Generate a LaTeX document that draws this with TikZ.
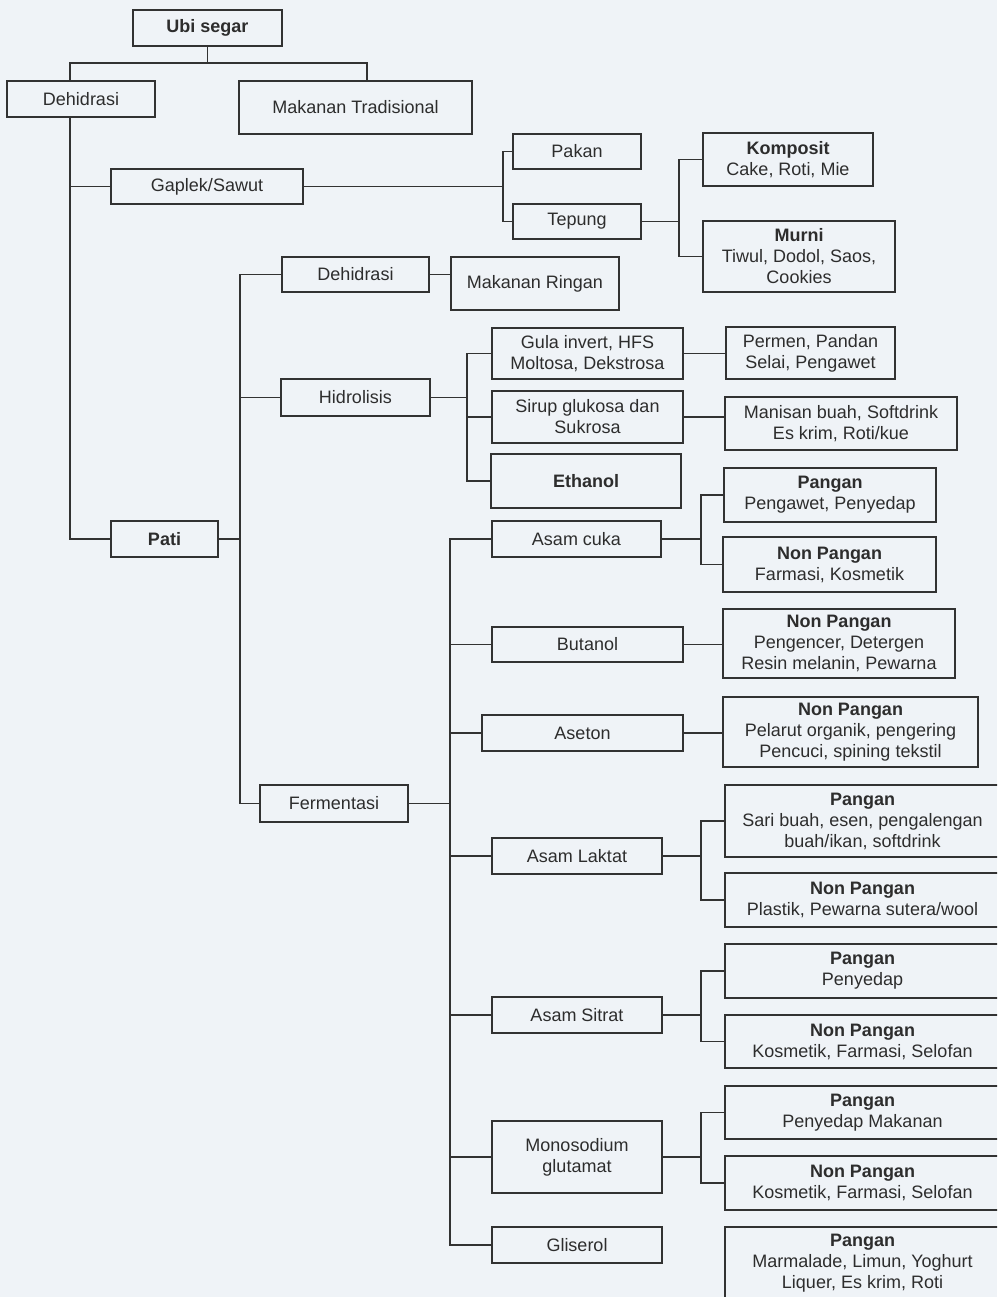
\documentclass[tikz,border=0pt]{standalone}
\usepackage{fontspec}
\setmainfont{Liberation Sans}

\definecolor{kertas}{RGB}{239,243,247}
\definecolor{garis}{RGB}{50,50,50}
\definecolor{tinta}{RGB}{45,45,45}

\tikzset{
  kotak/.style 2 args={draw=garis, line width=1.6pt, inner sep=0pt, align=center,
    minimum width=#1pt, minimum height=#2pt, text=tinta,
    font=\fontsize{18}{21}\selectfont},
  sambung/.style={draw=garis, line width=1.5pt},
}

\begin{document}
\begin{tikzpicture}[x=1pt,y=-1pt]
        \fill[kertas] (0,0) rectangle (997,1297);
        \clip (0,0) rectangle (997,1297);

        % kolom kiri
        \node[kotak={149}{36}] (ubi) at (207.5,28) {\textbf{Ubi segar}};
        \node[kotak={148}{36}] (deh1) at (81,99) {Dehidrasi};
        \node[kotak={233}{53}] (trad) at (355.5,107.5) {Makanan Tradisional};
        \node[kotak={192}{35}] (gaplek) at (207,186.5) {Gaplek/Sawut};
        \node[kotak={107}{36}] (pati) at (164.5,539) {\textbf{Pati}};
        \node[kotak={147}{35}] (deh2) at (355.5,274.5) {Dehidrasi};
        \node[kotak={149}{37}] (hidro) at (355.5,397.5) {Hidrolisis};
        \node[kotak={148}{37}] (ferm) at (334,803.5) {Fermentasi};

        % kolom tengah
        \node[kotak={128}{35}] (pakan) at (577,151.5) {Pakan};
        \node[kotak={128}{35}] (tepung) at (577,221.5) {Tepung};
        \node[kotak={168}{53}] (ringan) at (535,283.5) {Makanan Ringan};
        \node[kotak={191}{51}] (gula) at (587.5,353.5) {Gula invert, HFS\\Moltosa, Dekstrosa};
        \node[kotak={191}{52}] (sirup) at (587.5,417) {Sirup glukosa dan\\Sukrosa};
        \node[kotak={190}{54}] (ethanol) at (586,481) {\textbf{Ethanol}};
        \node[kotak={169}{36}] (asamcuka) at (576.5,539) {Asam cuka};
        \node[kotak={191}{35}] (butanol) at (587.5,644.5) {Butanol};
        \node[kotak={201}{36}] (aseton) at (582.5,733) {Aseton};
        \node[kotak={170}{36}] (laktat) at (577,856) {Asam Laktat};
        \node[kotak={170}{36}] (sitrat) at (577,1015) {Asam Sitrat};
        \node[kotak={170}{72}] (msg) at (577,1157) {Monosodium\\glutamat};
        \node[kotak={170}{36}] (gliserol) at (577,1245) {Gliserol};

        % kolom kanan
        \node[kotak={170}{53}] (komposit) at (788,159.5) {\textbf{Komposit}\\Cake, Roti, Mie};
        \node[kotak={192}{71}] (murni) at (799,256.5) {\textbf{Murni}\\Tiwul, Dodol, Saos,\\Cookies};
        \node[kotak={169}{52}] (permen) at (810.5,353) {Permen, Pandan\\Selai, Pengawet};
        \node[kotak={232}{53}] (manisan) at (841,423.5) {Manisan buah, Softdrink\\Es krim, Roti/kue};
        \node[kotak={212}{54}] (pangan1) at (830,495) {\textbf{Pangan}\\Pengawet, Penyedap};
        \node[kotak={213}{55}] (nonp1) at (829.5,564.5) {\textbf{Non Pangan}\\Farmasi, Kosmetik};
        \node[kotak={232}{69}] (nonp2) at (839,643.5) {\textbf{Non Pangan}\\Pengencer, Detergen\\Resin melanin, Pewarna};
        \node[kotak={255}{70}] (nonp3) at (850.5,732) {\textbf{Non Pangan}\\Pelarut organik, pengering\\Pencuci, spining tekstil};
        \node[kotak={275}{72}] (pangan2) at (862.5,821) {\textbf{Pangan}\\Sari buah, esen, pengalengan\\buah/ikan, softdrink};
        \node[kotak={275}{54}] (nonp4) at (862.5,900) {\textbf{Non Pangan}\\Plastik, Pewarna sutera/wool};
        \node[kotak={275}{54}] (pangan3) at (862.5,971) {\textbf{Pangan}\\Penyedap};
        \node[kotak={275}{53}] (nonp5) at (862.5,1041.5) {\textbf{Non Pangan}\\Kosmetik, Farmasi, Selofan};
        \node[kotak={275}{53}] (pangan4) at (862.5,1112.5) {\textbf{Pangan}\\Penyedap Makanan};
        \node[kotak={275}{54}] (nonp6) at (862.5,1183) {\textbf{Non Pangan}\\Kosmetik, Farmasi, Selofan};
        \node[kotak={275}{73}] (pangan5) at (862.5,1263.5) {\textbf{Pangan}\\Marmalade, Limun, Yoghurt\\Liquer, Es krim, Roti};

        % titik cabang
        \coordinate (j0a) at (70,63);
        \coordinate (j0b) at (367,63);
        \coordinate (j1) at (503,0);
        \coordinate (j2) at (679,0);
        \coordinate (j3) at (240,0);
        \coordinate (j4) at (467,0);
        \coordinate (j5) at (450,0);
        \coordinate (j6) at (701,0);

        \draw[sambung] (ubi.south) -- (ubi.south |- j0a);
        \draw[sambung] (deh1.north -| j0a) -- (j0a) -- (j0b) -- (trad.north -| j0b);
        \draw[sambung] (deh1.south -| j0a) |- (pati.west);
        \draw[sambung] (gaplek.west) -- (gaplek.west -| j0a);

        \draw[sambung] (gaplek.east) -- (gaplek.east -| j1);
        \draw[sambung] (pakan.west) -| (j1 |- tepung.west) -- (tepung.west);
        \draw[sambung] (tepung.east) -- (tepung.east -| j2);
        \draw[sambung] (komposit.west) -| (j2 |- murni.west) -- (murni.west);

        \draw[sambung] (deh2.west) -| (j3 |- ferm.west) -- (ferm.west);
        \draw[sambung] (pati.east) -- (pati.east -| j3);
        \draw[sambung] (hidro.west) -- (hidro.west -| j3);
        \draw[sambung] (deh2.east) -- (deh2.east -| ringan.west);

        \draw[sambung] (hidro.east) -- (hidro.east -| j4);
        \draw[sambung] (gula.west) -| (j4 |- ethanol.west) -- (ethanol.west);
        \draw[sambung] (sirup.west) -- (sirup.west -| j4);
        \draw[sambung] (gula.east) -- (gula.east -| permen.west);
        \draw[sambung] (sirup.east) -- (sirup.east -| manisan.west);

        \draw[sambung] (asamcuka.west) -| (j5 |- gliserol.west) -- (gliserol.west);
        \draw[sambung] (ferm.east) -- (ferm.east -| j5);
        \foreach \n in {butanol,aseton,laktat,sitrat,msg} {
          \draw[sambung] (\n.west) -- (\n.west -| j5);
        }

        \foreach \a/\b/\c in {asamcuka/pangan1/nonp1, laktat/pangan2/nonp4,
                              sitrat/pangan3/nonp5, msg/pangan4/nonp6} {
          \draw[sambung] (\a.east) -- (\a.east -| j6);
          \draw[sambung] (\b.west) -| (j6 |- \c.west) -- (\c.west);
        }
        \draw[sambung] (butanol.east) -- (butanol.east -| nonp2.west);
        \draw[sambung] (aseton.east) -- (aseton.east -| nonp3.west);
\end{tikzpicture}
\end{document}
